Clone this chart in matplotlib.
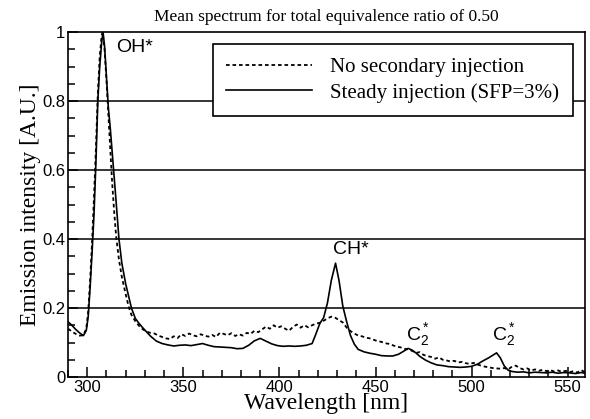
import matplotlib
matplotlib.use("Agg")
import matplotlib.pyplot as plt
from matplotlib.ticker import MultipleLocator
from matplotlib.font_manager import FontProperties

# emission spectra, normalised to the OH* peak
steady_wl = [290, 292, 294, 296, 298, 299.5, 300.5, 301.5, 302.5, 303.5, 304.5, 305.5,
             306.5, 307.5, 308.2, 309, 310, 311, 312, 313, 314, 315, 316.5, 318, 320,
             321.5, 323, 325, 327, 329, 331, 333, 336, 339, 342, 345, 348, 351, 354,
             357, 360, 363, 366, 369, 372, 375, 378, 381, 384, 387, 390, 393, 396, 399,
             402, 405, 408, 411, 414, 417, 419, 421, 423, 425, 427, 429.2, 431, 433,
             435, 437, 439, 441, 444, 447, 450, 453, 456, 459, 462, 465, 467, 469, 471,
             473, 476, 479, 482, 485, 488, 491, 494, 497, 500, 503, 506, 509, 511, 513,
             515, 517, 519, 521, 524, 527, 530, 533, 536, 539, 542, 545, 548, 551, 554,
             557, 559]
steady_int = [0.160, 0.150, 0.138, 0.128, 0.120, 0.135, 0.175, 0.26, 0.36, 0.47, 0.62, 0.80,
              0.90, 0.97, 1.0, 0.96, 0.87, 0.78, 0.72, 0.65, 0.58, 0.51, 0.40, 0.33, 0.27,
              0.235, 0.20, 0.17, 0.155, 0.142, 0.130, 0.118, 0.104, 0.097, 0.093, 0.090,
              0.092, 0.093, 0.091, 0.094, 0.097, 0.092, 0.088, 0.087, 0.086, 0.085, 0.082,
              0.083, 0.092, 0.105, 0.112, 0.104, 0.096, 0.091, 0.089, 0.090, 0.089, 0.090,
              0.092, 0.097, 0.125, 0.155, 0.172, 0.215, 0.28, 0.33, 0.28, 0.205, 0.16,
              0.12, 0.095, 0.080, 0.073, 0.069, 0.066, 0.062, 0.061, 0.061, 0.066, 0.076,
              0.083, 0.078, 0.070, 0.060, 0.049, 0.041, 0.035, 0.033, 0.030, 0.029, 0.028,
              0.029, 0.031, 0.037, 0.047, 0.056, 0.063, 0.070, 0.055, 0.032, 0.020, 0.016,
              0.014, 0.015, 0.012, 0.014, 0.013, 0.012, 0.014, 0.011, 0.013, 0.012, 0.010,
              0.013, 0.011]

none_wl = [290, 292, 294, 296, 298, 299.5, 300.5, 301.5, 302.5, 303.5, 304.5, 305.5,
           306.5, 307.5, 308, 309, 310, 311, 312, 313, 314, 315, 316.5, 318, 320, 321.5,
           323, 325, 327, 329, 331, 333, 335, 337, 339, 341, 343, 345, 347, 349, 351,
           353, 355, 357, 359, 361, 363, 365, 367, 369, 371, 373, 375, 377, 379, 381,
           383, 385, 387, 389, 391, 393, 395, 397, 399, 401, 403, 405, 407, 409, 411,
           413, 415, 417, 419, 421, 423, 425, 427, 429, 431, 433, 435, 437, 439, 441,
           443, 445, 447, 449, 451, 453, 455, 457, 459, 461, 463, 465, 467, 469, 471,
           473, 475, 477, 479, 481, 483, 485, 487, 489, 491, 493, 495, 497, 499, 501,
           503, 505, 507, 509, 511, 513, 515, 517, 519, 521, 523, 525, 527, 529, 531,
           533, 535, 537, 539, 541, 543, 545, 547, 549, 551, 553, 555, 557, 559]
none_int = [0.140, 0.132, 0.125, 0.120, 0.121, 0.140, 0.19, 0.28, 0.39, 0.52, 0.66, 0.82,
            0.93, 0.99, 1.0, 0.95, 0.86, 0.76, 0.66, 0.56, 0.48, 0.41, 0.34, 0.29, 0.24,
            0.205, 0.18, 0.162, 0.148, 0.138, 0.131, 0.128, 0.126, 0.120, 0.116, 0.112,
            0.110, 0.118, 0.113, 0.124, 0.119, 0.126, 0.121, 0.118, 0.124, 0.120, 0.117,
            0.122, 0.116, 0.128, 0.125, 0.121, 0.127, 0.119, 0.124, 0.120, 0.128, 0.125,
            0.134, 0.130, 0.138, 0.146, 0.140, 0.150, 0.143, 0.147, 0.140, 0.134, 0.145,
            0.152, 0.143, 0.150, 0.144, 0.150, 0.155, 0.157, 0.163, 0.170, 0.175, 0.172,
            0.165, 0.158, 0.143, 0.133, 0.126, 0.120, 0.118, 0.114, 0.112, 0.108, 0.104,
            0.102, 0.098, 0.096, 0.092, 0.088, 0.086, 0.082, 0.080, 0.076, 0.070, 0.072,
            0.064, 0.061, 0.058, 0.053, 0.057, 0.050, 0.048, 0.045, 0.047, 0.042, 0.044,
            0.040, 0.038, 0.041, 0.036, 0.033, 0.030, 0.028, 0.026, 0.025, 0.024, 0.026,
            0.022, 0.030, 0.033, 0.026, 0.022, 0.025, 0.019, 0.022, 0.018, 0.021, 0.017,
            0.020, 0.016, 0.019, 0.015, 0.018, 0.014, 0.017, 0.013, 0.020, 0.014]

serif = "Liberation Serif"
sans = "Liberation Sans"

fig = plt.figure(figsize=(5.9, 4.19), dpi=100)
ax = fig.add_axes([0.1153, 0.1002, 0.8762, 0.8234])

for y in [0.2, 0.4, 0.6, 0.8]:
    ax.axhline(y, color="black", lw=1.1, zorder=1)

ax.plot(none_wl, none_int, color="black", lw=1.3, ls=(0, (2, 1.6)),
        label="No secondary injection", zorder=3)
ax.plot(steady_wl, steady_int, color="black", lw=1.2,
        label="Steady injection (SFP=3%)", zorder=3)

ax.set_xlim(290, 559)
ax.set_ylim(0, 1)
ax.xaxis.set_major_locator(MultipleLocator(50))
ax.xaxis.set_minor_locator(MultipleLocator(10))
ax.yaxis.set_minor_locator(MultipleLocator(0.05))
ax.set_yticks([0, 0.2, 0.4, 0.6, 0.8, 1.0])
ax.set_yticklabels(["0", "0.2", "0.4", "0.6", "0.8", "1"])
ax.tick_params(which="both", direction="in", top=False, right=False, width=1.1)
ax.tick_params(which="major", length=7, labelsize=12, pad=2)
ax.tick_params(which="minor", length=5)
for lab in ax.get_xticklabels() + ax.get_yticklabels():
    lab.set_family(sans)
for sp in ax.spines.values():
    sp.set_linewidth(1.2)

ax.set_xlabel("Wavelength [nm]", family=serif, fontsize=17, labelpad=-1)
ax.set_ylabel("Emission intensity [A.U.]", family=serif, fontsize=17, labelpad=1)
ax.set_title("Mean spectrum for total equivalence ratio of 0.50", family=serif,
             fontsize=12.5, pad=8)

leg_font = FontProperties(family=serif, size=15)
leg = ax.legend(loc="upper right", bbox_to_anchor=(0.9768, 0.9652), borderaxespad=0,
                prop=leg_font, handlelength=4.1, handletextpad=0.9,
                labelspacing=0.28, borderpad=0.65, fancybox=False, framealpha=1,
                edgecolor="black")
leg.get_frame().set_linewidth(1.2)
leg.set_zorder(5)

ax.text(315, 0.955, "OH*", family=sans, fontsize=14, ha="left", va="center")
ax.text(437, 0.345, "CH*", family=sans, fontsize=14, ha="center", va="bottom")
ax.text(472, 0.085, r"$\mathregular{C_2^*}$", family=sans, fontsize=14, ha="center",
        va="bottom")
ax.text(517, 0.085, r"$\mathregular{C_2^*}$", family=sans, fontsize=14, ha="center",
        va="bottom")

fig.savefig("out.png", dpi=100)
